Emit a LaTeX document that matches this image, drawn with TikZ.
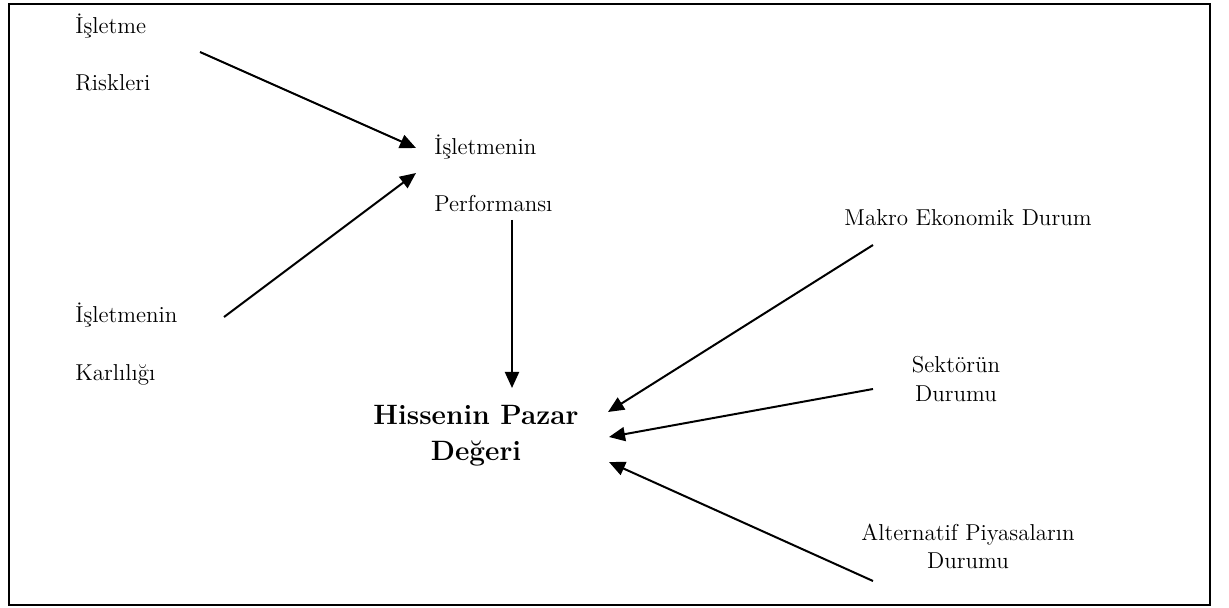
\documentclass[tikz,border=0pt]{standalone}
\usepackage{fontspec}
\usetikzlibrary{arrows.meta}
\begin{document}
\begin{tikzpicture}[x=0.5pt,y=-0.5pt,
  lbl/.style={inner sep=0pt,font=\fontsize{11.5}{13.8}\selectfont},
  ttl/.style={inner sep=0pt,font=\fontsize{14}{17}\selectfont\bfseries},
  flow/.style={line width=1pt,-{Triangle[length=8pt,width=7pt]}},
  frame/.style={line width=1pt}]
\useasboundingbox (0,0) rectangle (1229,608);
\draw[frame] (9,4) rectangle (1210,605);

% factor labels
\node[lbl,anchor=base west] (rk1) at (75,34) {İşletme};
\node[lbl,anchor=base west] (rk2) at (75,91) {Riskleri};
\node[lbl,anchor=base west] (pf1) at (434,155) {İşletmenin};
\node[lbl,anchor=base west] (pf2) at (434,212) {Performansı};
\node[lbl,anchor=base west] (kr1) at (75,323) {İşletmenin};
\node[lbl,anchor=base west] (kr2) at (75,380) {Karlılığı};
\node[lbl,anchor=base west] (mk) at (844,226) {Makro Ekonomik Durum};
\node[lbl,anchor=base] (sk1) at (956,372) {Sektörün};
\node[lbl,anchor=base] (sk2) at (956,401) {Durumu};
\node[lbl,anchor=base] (al1) at (968,540) {Alternatif Piyasaların};
\node[lbl,anchor=base] (al2) at (968,568) {Durumu};

% central result
\node[ttl,anchor=base] (hp1) at (476,424) {Hissenin Pazar};
\node[ttl,anchor=base] (hp2) at (476,460) {Değeri};

% connector ends
\coordinate (rkS) at (200,52);
\coordinate (rkT) at (416,148);
\coordinate (krS) at (224,317);
\coordinate (krT) at (416,173);
\coordinate (pfS) at (512,220);
\coordinate (pfT) at (512,388);
\coordinate (mkS) at (873,245);
\coordinate (mkT) at (608,412);
\coordinate (skS) at (873,389);
\coordinate (skT) at (609,437);
\coordinate (alS) at (873,581);
\coordinate (alT) at (609,462);

\draw[flow] (rkS) -- (rkT);
\draw[flow] (krS) -- (krT);
\draw[flow] (pfS) -- (pfT);
\draw[flow] (mkS) -- (mkT);
\draw[flow] (skS) -- (skT);
\draw[flow] (alS) -- (alT);
\end{tikzpicture}
\end{document}
